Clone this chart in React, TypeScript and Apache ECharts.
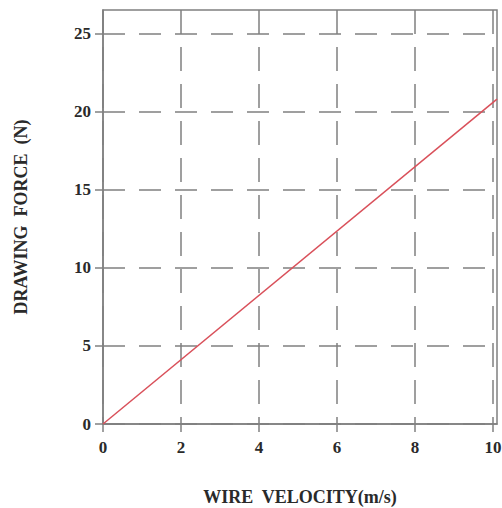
import React, { useEffect, useRef } from "react";
import * as echarts from "echarts";

const velocity = [0, 10.1];
const force = [0, 20.8];
const xTicks = [0, 2, 4, 6, 8, 10];
const yTicks = [0, 5, 10, 15, 20, 25];
const xTitle = "WIRE  VELOCITY(m/s)";
const yTitle = "DRAWING  FORCE  (N)";

export default function App() {
  const ref = useRef<HTMLDivElement>(null);
  useEffect(() => {
    const chart = echarts.init(ref.current!, null, { renderer: "svg" });
    const serif = "'Liberation Serif', 'DejaVu Serif', serif";
    const gray = "#808080";
    const text = "#2a2a2a";
    chart.setOption({
      animation: false,
      backgroundColor: "#ffffff",
      grid: {
        left: 103,
        right: 5,
        top: 10,
        bottom: 84,
        outerBoundsMode: "none",
        containLabel: false,
        show: true,
        borderColor: gray,
        borderWidth: 1.5,
        backgroundColor: "transparent",
      },
      xAxis: {
        type: "value",
        min: 0,
        max: 10.1,
        interval: 2,
        name: xTitle,
        nameLocation: "middle",
        nameGap: 64,
        nameTextStyle: { fontFamily: serif, fontWeight: "bold", fontSize: 18, color: text },
        axisLine: { show: true, onZero: false, lineStyle: { color: gray, width: 1.5 } },
        axisTick: { show: true, length: 8, inside: false, customValues: xTicks, lineStyle: { color: gray, width: 1.5 } },
        axisLabel: {
          margin: 15,
          fontFamily: serif,
          fontWeight: "bold",
          fontSize: 17,
          color: text,
          customValues: xTicks,
        },
        splitLine: { show: true, lineStyle: { color: gray, width: 1.5, type: [24, 13] } },
      },
      yAxis: {
        type: "value",
        min: 0,
        max: 26.5,
        interval: 5,
        name: yTitle,
        nameLocation: "middle",
        nameGap: 73,
        nameRotate: 90,
        nameTextStyle: { fontFamily: serif, fontWeight: "bold", fontSize: 18, color: text },
        axisLine: { show: true, onZero: false, lineStyle: { color: gray, width: 1.5 } },
        axisTick: { show: true, length: 8, inside: false, customValues: yTicks, lineStyle: { color: gray, width: 1.5 } },
        axisLabel: {
          margin: 12,
          fontFamily: serif,
          fontWeight: "bold",
          fontSize: 17,
          color: text,
          customValues: yTicks,
        },
        splitLine: { show: true, lineStyle: { color: gray, width: 1.5, type: [22, 14] } },
      },
      series: [
        {
          type: "line",
          data: velocity.map((v, i) => [v, force[i]]),
          showSymbol: false,
          lineStyle: { color: "#d9505a", width: 1.5 },
        },
      ],
    });
    return () => chart.dispose();
  }, []);
  return <div ref={ref} style={{ width: 502, height: 508, position: "absolute", left: 0, top: 0 }} />;
}
